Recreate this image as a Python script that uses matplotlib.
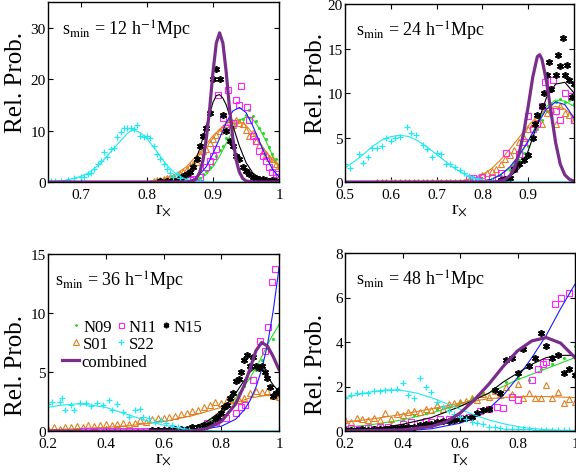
import numpy as np
import matplotlib
matplotlib.use("Agg")
import matplotlib.pyplot as plt

plt.rcParams['font.family'] = ['Liberation Serif', 'DejaVu Serif']
plt.rcParams['mathtext.fontset'] = 'stix'

# colours
c_n09 = '#22dd22'
c_n11 = '#ff22ff'
c_n11_fit = '#1a1aff'
c_n15 = 'black'
c_s01 = '#e08020'
c_s22 = '#22e8f0'
c_comb = '#7a2e8c'

# ---------------- panel 1: s_min = 12 ----------------
p1_s22_x = [0.655, 0.66, 0.67, 0.68, 0.69, 0.70, 0.705, 0.71, 0.715, 0.72, 0.725, 0.73, 0.735, 0.74, 0.745,
            0.75, 0.755, 0.76, 0.765, 0.77, 0.775, 0.78, 0.785, 0.79, 0.795, 0.80, 0.805, 0.81, 0.815,
            0.82, 0.825, 0.83, 0.835, 0.84, 0.845, 0.85, 0.86, 0.87, 0.88]
p1_s22_y = [0.1, 0.1, 0.2, 0.3, 0.8, 0.9, 1.0, 1.5, 1.8, 2.5, 3.5, 4.0, 5.9, 4.8, 6.5,
            6.6, 8.8, 9.8, 10.5, 10.5, 10.5, 10.3, 11.0, 9.0, 8.8, 9.0, 8.6, 7.0, 5.5,
            4.5, 3.5, 2.5, 1.8, 1.0, 1.5, 0.8, 0.4, 0.2, 0.1]
p1_s22_fx = [0.65, 0.67, 0.69, 0.70, 0.71, 0.72, 0.73, 0.74, 0.75, 0.76, 0.77, 0.775, 0.78, 0.79, 0.80,
             0.81, 0.82, 0.83, 0.84, 0.85, 0.86, 0.87, 0.88, 0.90, 1.0]
p1_s22_fy = [0.05, 0.2, 0.7, 1.1, 1.7, 2.6, 3.7, 5.1, 6.6, 8.0, 9.4, 9.9, 10.1, 9.6, 8.4,
             6.8, 5.0, 3.3, 2.0, 1.1, 0.5, 0.2, 0.1, 0.0, 0.0]

p1_n15_x = [0.82, 0.83, 0.84, 0.85, 0.855, 0.86, 0.865, 0.87, 0.875, 0.88, 0.885, 0.89, 0.895, 0.90, 0.905,
            0.91, 0.915, 0.92, 0.925, 0.93, 0.935, 0.94, 0.945, 0.95, 0.955, 0.96, 0.965, 0.97, 0.975,
            0.98, 0.985, 0.99, 0.995]
p1_n15_y = [0.1, 0.2, 0.3, 0.8, 1.2, 1.5, 2.0, 3.0, 4.5, 7.0, 9.0, 10.5, 13.5, 20.0, 22.0,
            20.0, 13.0, 10.0, 8.0, 7.0, 5.0, 4.5, 3.0, 2.2, 1.5, 1.0, 0.8, 0.5, 0.5,
            0.3, 0.2, 0.3, 0.2]
p1_n15_fx = [0.83, 0.85, 0.86, 0.87, 0.88, 0.89, 0.90, 0.905, 0.91, 0.915, 0.92, 0.93, 0.94, 0.95, 0.96,
             0.97, 0.98, 0.99, 1.0]
p1_n15_fy = [0.1, 0.4, 1.2, 3.0, 6.5, 11.0, 15.5, 16.8, 17.0, 16.3, 15.0, 11.0, 7.0, 3.8, 1.8,
             0.8, 0.3, 0.1, 0.05]

p1_n11_x = [0.855, 0.86, 0.865, 0.87, 0.88, 0.89, 0.895, 0.90, 0.905, 0.908, 0.915, 0.92, 0.923, 0.93,
            0.935, 0.94, 0.943, 0.952, 0.955, 0.96, 0.965, 0.97, 0.975, 0.98, 0.985, 0.99, 0.995, 1.0]
p1_n11_y = [0.1, 0.3, 0.3, 0.5, 1.0, 3.0, 4.0, 5.0, 6.5, 17.0, 12.5, 10.5, 17.8, 11.5,
            16.0, 15.0, 18.6, 14.6, 12.0, 9.0, 8.0, 6.0, 5.0, 4.0, 3.0, 2.0, 1.5, 1.0]
p1_n11_fx = [0.85, 0.86, 0.87, 0.88, 0.89, 0.90, 0.91, 0.92, 0.93, 0.94, 0.95, 0.96, 0.97, 0.98, 0.99, 1.0]
p1_n11_fy = [0.0, 0.1, 0.5, 1.5, 3.0, 5.5, 8.5, 11.5, 13.8, 14.5, 13.5, 11.0, 8.0, 5.0, 2.5, 1.0]

p1_n09_x = [0.86, 0.87, 0.88, 0.885, 0.89, 0.895, 0.90, 0.905, 0.91, 0.915, 0.92, 0.925, 0.93, 0.935,
            0.94, 0.945, 0.95, 0.955, 0.96, 0.965, 0.97, 0.975, 0.98, 0.985, 0.99, 0.995, 1.0]
p1_n09_y = [0.1, 0.3, 0.8, 1.5, 2.2, 3.0, 3.5, 5.0, 6.2, 7.0, 8.5, 8.0, 10.5, 11.5,
            12.0, 12.2, 13.0, 14.0, 12.8, 11.8, 10.5, 9.5, 8.3, 6.8, 5.5, 4.5, 3.0]
p1_n09_fx = [0.86, 0.87, 0.88, 0.89, 0.90, 0.91, 0.92, 0.93, 0.94, 0.95, 0.96, 0.97, 0.98, 0.99, 1.0]
p1_n09_fy = [0.05, 0.2, 0.6, 1.5, 3.0, 5.0, 7.5, 10.0, 12.0, 12.6, 12.2, 10.5, 8.0, 5.2, 2.7]

p1_s01_x = [0.81, 0.815, 0.82, 0.825, 0.83, 0.835, 0.84, 0.845, 0.85, 0.855, 0.86, 0.865, 0.87, 0.875,
            0.88, 0.885, 0.89, 0.895, 0.90, 0.905, 0.91, 0.915, 0.92, 0.925, 0.93, 0.935, 0.94, 0.945,
            0.95, 0.955, 0.96, 0.965, 0.97, 0.975, 0.98, 0.985, 0.99, 0.995, 1.0]
p1_s01_y = [0.2, 0.3, 0.4, 0.5, 0.7, 0.9, 1.0, 1.3, 1.5, 1.9, 2.6, 3.2, 3.5, 3.9,
            5.2, 6.0, 6.5, 7.6, 8.3, 9.2, 10.0, 10.5, 11.3, 12.3, 11.0, 12.0, 11.5, 11.2,
            10.2, 9.0, 9.5, 8.0, 7.2, 6.0, 5.5, 4.6, 4.5, 3.5, 3.2]
p1_s01_fx = [0.80, 0.82, 0.84, 0.86, 0.88, 0.90, 0.92, 0.93, 0.94, 0.95, 0.96, 0.97, 0.98, 0.99, 1.0]
p1_s01_fy = [0.1, 0.4, 1.2, 3.0, 5.8, 9.0, 11.5, 12.0, 11.8, 11.0, 9.5, 7.8, 6.0, 4.4, 3.0]

p1_comb_x = [0.65, 0.86, 0.87, 0.875, 0.88, 0.885, 0.89, 0.895, 0.90, 0.905, 0.91, 0.915, 0.92, 0.925,
             0.93, 0.935, 0.94, 0.945, 0.95, 0.96, 1.0]
p1_comb_y = [0.0, 0.0, 0.2, 0.7, 1.9, 4.3, 8.6, 14.3, 21.4, 27.0, 29.0, 27.0, 21.4, 14.3,
             8.6, 4.3, 1.9, 0.7, 0.2, 0.0, 0.0]

# ---------------- panel 2: s_min = 24 ----------------
p2_s22_x = [0.50, 0.51, 0.53, 0.54, 0.55, 0.56, 0.57, 0.58, 0.59, 0.60, 0.61, 0.62, 0.635, 0.645, 0.655,
            0.67, 0.68, 0.69, 0.70, 0.71, 0.72, 0.73, 0.74, 0.75, 0.76, 0.77, 0.78, 0.79, 0.80, 0.82, 0.84]
p2_s22_y = [2.0, 1.6, 3.1, 2.1, 2.8, 3.8, 3.8, 4.1, 5.0, 4.6, 5.0, 5.1, 6.2, 5.5, 5.3,
            4.2, 3.7, 2.8, 3.3, 3.1, 2.0, 2.0, 1.7, 1.3, 1.0, 0.7, 0.5, 0.3, 0.1, 0.1, 0.0]
p2_s22_fx = [0.50, 0.52, 0.54, 0.56, 0.58, 0.60, 0.62, 0.64, 0.66, 0.68, 0.70, 0.72, 0.74, 0.76, 0.78,
             0.80, 0.82, 0.84, 1.0]
p2_s22_fy = [1.6, 2.3, 3.1, 4.0, 4.7, 5.1, 5.25, 5.1, 4.6, 3.9, 3.1, 2.3, 1.5, 0.9, 0.5,
             0.2, 0.1, 0.0, 0.0]

p2_s01_x = np.round(np.arange(0.57, 1.005, 0.01), 3)
p2_s01_y = [0.05] * 20 + [0.2, 0.4, 0.5, 0.8, 1.0, 1.2, 1.5, 2.0, 2.6, 3.0, 3.6, 4.5, 5.0, 6.0,
                          6.5, 7.3, 6.5, 7.8, 8.2, 6.5, 8.5, 7.8, 7.5, 7.0]
p2_s01_fx = [0.57, 0.75, 0.78, 0.80, 0.82, 0.84, 0.86, 0.88, 0.90, 0.92, 0.94, 0.96, 0.98, 1.0]
p2_s01_fy = [0.0, 0.1, 0.4, 0.8, 1.5, 2.5, 3.7, 5.0, 6.3, 7.4, 8.2, 8.5, 8.2, 7.3]

p2_n11_x = [0.77, 0.78, 0.79, 0.80, 0.82, 0.84, 0.852, 0.87, 0.88, 0.89, 0.90, 0.91, 0.92, 0.93,
            0.936, 0.945, 0.954, 0.96, 0.97, 0.98, 0.994, 1.0]
p2_n11_y = [0.3, 0.5, 0.2, 0.6, 0.4, 1.0, 3.3, 1.5, 3.2, 4.5, 7.4, 6.0, 6.5, 8.5,
            11.2, 10.5, 11.5, 8.0, 7.0, 10.0, 9.7, 7.0]
p2_n11_fx = [0.78, 0.80, 0.82, 0.84, 0.86, 0.88, 0.90, 0.92, 0.94, 0.96, 0.98, 1.0]
p2_n11_fy = [0.0, 0.1, 0.3, 0.8, 1.7, 3.0, 4.6, 6.5, 8.2, 9.0, 8.7, 7.2]

p2_n09_x = [0.80, 0.82, 0.84, 0.86, 0.87, 0.88, 0.89, 0.90, 0.91, 0.92, 0.93, 0.94, 0.95, 0.96,
            0.97, 0.98, 0.99, 1.0]
p2_n09_y = [0.1, 0.3, 0.7, 1.3, 1.8, 2.5, 3.3, 4.0, 5.0, 6.0, 7.0, 8.0, 8.8, 9.0,
            9.3, 9.0, 9.2, 8.8]
p2_n09_fx = [0.78, 0.82, 0.86, 0.88, 0.90, 0.92, 0.94, 0.96, 0.98, 1.0]
p2_n09_fy = [0.0, 0.3, 1.5, 2.9, 4.5, 6.6, 8.5, 9.2, 9.1, 8.5]

p2_n15_x = [0.84, 0.85, 0.86, 0.87, 0.88, 0.89, 0.90, 0.91, 0.915, 0.92, 0.93, 0.935, 0.94, 0.945,
            0.95, 0.96, 0.965, 0.97, 0.975, 0.98, 0.985, 0.99, 0.995, 1.0]
p2_n15_y = [0.2, 0.3, 0.5, 1.5, 2.0, 2.5, 3.0, 5.0, 6.5, 7.5, 8.5, 10.0, 12.0, 13.5,
            10.5, 12.0, 14.3, 13.0, 16.2, 12.0, 13.2, 11.5, 9.5, 11.0]
p2_n15_fx = [0.80, 0.83, 0.86, 0.88, 0.90, 0.92, 0.94, 0.96, 0.98, 1.0]
p2_n15_fy = [0.0, 0.1, 0.6, 1.5, 3.5, 6.5, 9.5, 11.0, 11.2, 10.0]

p2_comb_x = [0.50, 0.83, 0.85, 0.86, 0.87, 0.88, 0.89, 0.90, 0.91, 0.92, 0.925, 0.93, 0.94, 0.95,
             0.96, 0.97, 0.98, 0.99, 1.0]
p2_comb_y = [0.0, 0.0, 0.3, 0.7, 1.6, 3.2, 5.5, 8.5, 11.8, 14.1, 14.3, 13.8, 11.3, 7.8,
             4.4, 2.0, 0.8, 0.3, 0.1]

# ---------------- panel 3: s_min = 36 ----------------
p3_s22_x = [0.20, 0.215, 0.24, 0.25, 0.26, 0.28, 0.29, 0.31, 0.33, 0.35, 0.37, 0.39, 0.41, 0.42, 0.44,
            0.46, 0.48, 0.50, 0.52, 0.53, 0.55, 0.57, 0.59, 0.61, 0.63, 0.65, 0.67, 0.69, 0.72, 0.75]
p3_s22_y = [2.3, 2.5, 2.5, 2.8, 1.8, 2.2, 1.8, 2.4, 2.4, 2.1, 2.4, 2.2, 2.6, 1.8, 2.3,
            1.6, 1.2, 1.8, 1.9, 1.2, 1.1, 0.8, 0.9, 0.7, 0.5, 0.3, 0.2, 0.1, 0.1, 0.0]
p3_s22_fx = [0.20, 0.25, 0.30, 0.35, 0.40, 0.45, 0.50, 0.55, 0.60, 0.65, 0.70, 0.75, 0.80, 1.0]
p3_s22_fy = [2.0, 2.2, 2.3, 2.2, 2.0, 1.6, 1.2, 0.8, 0.5, 0.25, 0.1, 0.05, 0.0, 0.0]

p3_s01_x = np.round(np.arange(0.20, 1.005, 0.02), 3)
p3_s01_y = [0.2, 0.3, 0.2, 0.3, 0.3, 0.4, 0.3, 0.5, 0.4, 0.5, 0.6, 0.5, 0.6, 0.7, 0.6, 0.7, 0.9,
            0.8, 1.0, 1.1, 1.1, 1.2, 1.3, 1.4, 1.5, 1.7, 1.8, 2.0, 2.2, 2.5, 2.4, 2.6, 2.7, 2.6,
            2.8, 3.2, 3.4, 3.3, 3.4, 3.0, 2.9]
p3_s01_fx = [0.20, 0.30, 0.40, 0.50, 0.60, 0.70, 0.80, 0.85, 0.90, 0.95, 1.0]
p3_s01_fy = [0.1, 0.2, 0.3, 0.5, 0.8, 1.3, 2.0, 2.4, 2.8, 3.0, 3.0]

p3_n11_x = [0.32, 0.34, 0.36, 0.38, 0.40, 0.42, 0.44, 0.46, 0.48, 0.50, 0.52, 0.54, 0.56, 0.58, 0.60,
            0.62, 0.64, 0.66, 0.68, 0.70, 0.72, 0.749, 0.783, 0.818, 0.852, 0.87, 0.881, 0.91,
            0.933, 0.95, 0.962, 0.977, 0.985]
p3_n11_y = [0.0] * 21 + [0.7, 0.8, 1.1, 1.5, 2.0, 2.2, 4.3, 7.6, 6.8, 8.8, 12.6, 13.7]
p3_n11_fx = [0.60, 0.70, 0.75, 0.80, 0.85, 0.88, 0.90, 0.92, 0.94, 0.96, 0.98, 1.0]
p3_n11_fy = [0.0, 0.1, 0.2, 0.4, 1.0, 1.8, 2.6, 3.7, 5.2, 7.3, 10.2, 13.8]

p3_n09_x = [0.60, 0.65, 0.70, 0.72, 0.74, 0.76, 0.78, 0.80, 0.82, 0.84, 0.86, 0.88, 0.90, 0.92,
            0.94, 0.96, 0.98, 1.0]
p3_n09_y = [0.1, 0.2, 0.4, 0.5, 0.6, 0.9, 1.2, 1.5, 2.0, 2.5, 3.2, 3.8, 4.5, 5.2,
            6.0, 7.0, 7.8, 9.0]
p3_n09_fx = [0.55, 0.60, 0.70, 0.75, 0.80, 0.85, 0.90, 0.93, 0.95, 0.97, 1.0]
p3_n09_fy = [0.0, 0.1, 0.3, 0.7, 1.5, 2.8, 4.5, 5.8, 6.8, 7.8, 9.0]

p3_n15_x = [0.56, 0.58, 0.60, 0.62, 0.64, 0.66, 0.68, 0.70, 0.72, 0.74, 0.76, 0.78, 0.79, 0.80, 0.81,
            0.82, 0.83, 0.84, 0.85, 0.86, 0.87, 0.88, 0.89, 0.90, 0.91, 0.92, 0.93, 0.94, 0.95,
            0.96, 0.97, 0.98, 0.99, 1.0]
p3_n15_y = [0.05, 0.05, 0.1, 0.1, 0.15, 0.2, 0.2, 0.3, 0.3, 0.5, 0.6, 1.0, 1.2, 1.5, 2.0,
            2.2, 2.8, 3.2, 4.2, 4.4, 5.0, 6.0, 6.4, 5.5, 6.3, 5.5, 5.3, 5.5, 5.0,
            4.5, 3.7, 3.0, 3.2, 3.5]
p3_n15_fx = [0.55, 0.60, 0.70, 0.75, 0.80, 0.85, 0.88, 0.90, 0.92, 0.94, 0.96, 0.98, 1.0]
p3_n15_fy = [0.0, 0.05, 0.3, 0.8, 1.7, 3.2, 4.3, 5.0, 5.4, 5.2, 4.6, 3.9, 3.3]

p3_comb_x = [0.20, 0.70, 0.75, 0.80, 0.85, 0.88, 0.90, 0.92, 0.94, 0.96, 0.98, 1.0]
p3_comb_y = [0.0, 0.0, 0.2, 0.8, 2.3, 3.9, 5.3, 6.8, 7.5, 7.2, 6.3, 5.2]

# ---------------- panel 4: s_min = 48 ----------------
p4_x02 = np.round(np.arange(0.20, 1.005, 0.02), 3)

p4_s22_y = [1.5, 1.6, 1.7, 1.7, 1.7, 1.8, 1.8, 1.85, 1.85, 1.9, 2.15, 1.6, 1.5, 2.4, 2.0,
            1.75, 1.3, 1.1, 0.9, 0.75, 0.65, 0.55, 0.4, 0.35, 0.3, 0.2, 0.2, 0.15, 0.1, 0.1,
            0.1, 0.08, 0.08, 0.05, 0.05, 0.05, 0.05, 0.05, 0.05, 0.05, 0.05]
p4_s22_fx = [0.20, 0.25, 0.30, 0.35, 0.40, 0.45, 0.50, 0.55, 0.60, 0.65, 0.70, 0.75, 0.80, 0.85,
             0.90, 0.95, 1.0]
p4_s22_fy = [1.5, 1.65, 1.78, 1.85, 1.82, 1.7, 1.5, 1.25, 0.98, 0.72, 0.5, 0.33, 0.2, 0.11,
             0.06, 0.03, 0.02]

p4_s01_y = [0.5, 0.4, 0.6, 0.55, 0.5, 0.6, 0.5, 0.8, 0.55, 0.75, 0.7, 0.85, 0.9, 0.85, 1.0,
            0.95, 1.15, 1.0, 1.2, 1.25, 1.3, 1.35, 1.5, 1.4, 1.65, 1.55, 1.8, 1.6, 2.0, 1.65,
            2.1, 1.5, 1.7, 1.5, 1.5, 2.05, 1.5, 1.75, 1.25, 1.45, 1.3]
p4_s01_fx = [0.20, 0.30, 0.40, 0.50, 0.60, 0.70, 0.80, 0.90, 1.0]
p4_s01_fy = [0.4, 0.55, 0.75, 1.0, 1.25, 1.45, 1.55, 1.55, 1.5]

p4_n09_x = np.round(np.arange(0.20, 1.005, 0.04), 3)
p4_n09_y = [0.1, 0.2, 0.25, 0.3, 0.4, 0.5, 0.7, 0.8, 1.0, 1.1, 1.3, 1.5, 1.7, 1.9, 2.2,
            2.4, 2.3, 2.8, 3.0, 3.3, 3.8]
p4_n09_fx = [0.20, 0.30, 0.40, 0.50, 0.60, 0.70, 0.80, 0.90, 1.0]
p4_n09_fy = [0.15, 0.3, 0.5, 0.8, 1.2, 1.7, 2.3, 2.8, 3.3]

p4_n15_y = [0.05, 0.05, 0.05, 0.1, 0.05, 0.1, 0.1, 0.1, 0.15, 0.15, 0.2, 0.2, 0.2, 0.25, 0.3,
            0.3, 0.4, 0.45, 0.45, 0.5, 0.55, 0.6, 0.65, 0.8, 0.95, 1.0, 1.85, 1.7, 3.2, 3.3,
            2.6, 3.7, 2.9, 3.3, 4.4, 3.8, 3.3, 3.4, 2.6, 2.8, 2.5]
p4_n15_fx = [0.20, 0.30, 0.40, 0.50, 0.60, 0.70, 0.75, 0.80, 0.85, 0.90, 0.95, 1.0]
p4_n15_fy = [0.05, 0.1, 0.3, 0.6, 1.1, 1.7, 2.2, 2.6, 3.0, 3.3, 3.4, 3.4]

p4_n11_x = [0.20, 0.22, 0.25, 0.28, 0.30, 0.32, 0.35, 0.38, 0.40, 0.43, 0.46, 0.48, 0.50, 0.53, 0.56,
            0.60, 0.63, 0.67, 0.70, 0.73, 0.75, 0.78, 0.80, 0.85, 0.87, 0.89, 0.90, 0.93, 0.95, 0.98]
p4_n11_y = [0.1, 0.15, 0.1, 0.15, 0.1, 0.2, 0.2, 0.15, 0.3, 0.4, 0.35, 0.45, 0.4, 0.55, 0.55,
            0.6, 0.65, 0.9, 1.0, 1.1, 1.05, 1.55, 1.4, 2.3, 2.8, 3.0, 3.1, 5.7, 6.0, 6.2]
p4_n11_fx = [0.40, 0.50, 0.60, 0.65, 0.70, 0.75, 0.80, 0.85, 0.90, 0.95, 1.0]
p4_n11_fy = [0.0, 0.1, 0.35, 0.6, 1.0, 1.6, 2.4, 3.3, 4.3, 5.5, 6.6]

p4_comb_x = [0.20, 0.40, 0.50, 0.55, 0.60, 0.65, 0.70, 0.75, 0.80, 0.85, 0.90, 0.95, 1.0]
p4_comb_y = [0.0, 0.05, 0.2, 0.4, 0.8, 1.4, 2.1, 2.9, 3.6, 4.05, 4.2, 3.95, 3.3]

smins = [12, 24, 36, 48]
xlims = [(0.65, 1.0), (0.5, 1.0), (0.2, 1.0), (0.2, 1.0)]
ylims = [(0, 35), (0, 20), (0, 15), (0, 8)]
xticks = [[0.7, 0.8, 0.9, 1], [0.5, 0.6, 0.7, 0.8, 0.9], [0.2, 0.4, 0.6, 0.8, 1], [0.2, 0.4, 0.6, 0.8, 1]]
yticks = [[0, 10, 20, 30], [0, 5, 10, 15, 20], [0, 5, 10, 15], [0, 2, 4, 6, 8]]

W, H = 576, 477
fig = plt.figure(figsize=(W / 100, H / 100), dpi=100)
boxes = [(48, 279, 3, 183), (345, 574, 5, 183), (48, 279, 255, 432), (345, 575, 254, 432)]
axes = []
for (l, r, t, b) in boxes:
    axes.append(fig.add_axes([l / W, 1 - b / H, (r - l) / W, (b - t) / H]))

# point data and fits per panel
panels = [
    dict(s22=(p1_s22_x, p1_s22_y, p1_s22_fx, p1_s22_fy),
         s01=(p1_s01_x, p1_s01_y, p1_s01_fx, p1_s01_fy),
         n09=(p1_n09_x, p1_n09_y, p1_n09_fx, p1_n09_fy),
         n11=(p1_n11_x, p1_n11_y, p1_n11_fx, p1_n11_fy),
         n15=(p1_n15_x, p1_n15_y, p1_n15_fx, p1_n15_fy),
         comb=(p1_comb_x, p1_comb_y)),
    dict(s22=(p2_s22_x, p2_s22_y, p2_s22_fx, p2_s22_fy),
         s01=(p2_s01_x, p2_s01_y, p2_s01_fx, p2_s01_fy),
         n09=(p2_n09_x, p2_n09_y, p2_n09_fx, p2_n09_fy),
         n11=(p2_n11_x, p2_n11_y, p2_n11_fx, p2_n11_fy),
         n15=(p2_n15_x, p2_n15_y, p2_n15_fx, p2_n15_fy),
         comb=(p2_comb_x, p2_comb_y)),
    dict(s22=(p3_s22_x, p3_s22_y, p3_s22_fx, p3_s22_fy),
         s01=(p3_s01_x, p3_s01_y, p3_s01_fx, p3_s01_fy),
         n09=(p3_n09_x, p3_n09_y, p3_n09_fx, p3_n09_fy),
         n11=(p3_n11_x, p3_n11_y, p3_n11_fx, p3_n11_fy),
         n15=(p3_n15_x, p3_n15_y, p3_n15_fx, p3_n15_fy),
         comb=(p3_comb_x, p3_comb_y)),
    dict(s22=(p4_x02, p4_s22_y, p4_s22_fx, p4_s22_fy),
         s01=(p4_x02, p4_s01_y, p4_s01_fx, p4_s01_fy),
         n09=(p4_n09_x, p4_n09_y, p4_n09_fx, p4_n09_fy),
         n11=(p4_n11_x, p4_n11_y, p4_n11_fx, p4_n11_fy),
         n15=(p4_x02, p4_n15_y, p4_n15_fx, p4_n15_fy),
         comb=(p4_comb_x, p4_comb_y)),
]

label_x = [-0.091, -0.079, -0.091, -0.079]
label_y = [0.56, 0.56, 0.378, 0.378]
text_x = [0.06, 0.048, 0.03, 0.048]
for i, ax in enumerate(axes):
    d = panels[i]
    x, y, fx, fy = d['n09']
    h09, = ax.plot(x, y, '.', color=c_n09, ms=2.5, label='N09')
    ax.plot(fx, fy, '-', color=c_n09, lw=0.8)
    x, y, fx, fy = d['s01']
    hs01, = ax.plot(x, y, '^', mfc='none', mec=c_s01, ms=5, mew=0.8, label='S01')
    ax.plot(fx, fy, '-', color=c_s01, lw=0.8)
    x, y, fx, fy = d['n11']
    h11, = ax.plot(x, y, 's', mfc='none', mec=c_n11, ms=4.5, mew=0.8, label='N11')
    ax.plot(fx, fy, '-', color=c_n11_fit, lw=0.8)
    x, y, fx, fy = d['n15']
    h15, = ax.plot(x, y, linestyle='none', marker=(6, 2, 0), color=c_n15, ms=5, mew=1.2, label='N15')
    ax.plot(fx, fy, '-', color=c_n15, lw=0.8)
    x, y, fx, fy = d['s22']
    hs22, = ax.plot(x, y, '+', color=c_s22, ms=5, mew=0.9, label='S22')
    ax.plot(fx, fy, '-', color=c_s22, lw=0.8)
    cx, cy = d['comb']
    hc, = ax.plot(cx, cy, '-', color=c_comb, lw=2.3, label='combined')

    ax.set_xlim(*xlims[i])
    ax.set_ylim(*ylims[i])
    ax.set_xticks(xticks[i])
    ax.set_yticks(yticks[i])
    ax.set_xticklabels([('%g' % v) for v in xticks[i]])
    ax.tick_params(direction='in', top=True, right=True, length=3.5, width=0.8, labelsize=11)
    ax.tick_params(axis='x', pad=4.5)
    ax.tick_params(axis='y', pad=1.5)
    for sp in ax.spines.values():
        sp.set_linewidth(1.0)
    ax.set_ylabel('Rel. Prob.', fontsize=18)
    ax.yaxis.set_label_coords(label_x[i], label_y[i])
    ax.set_xlabel(r'r$_{\times}$', fontsize=14, labelpad=0)
    ax.text(text_x[i], 0.85, r's$_{\rm min}$ = %d h$^{-1}$Mpc' % smins[i], transform=ax.transAxes,
            fontsize=13, va='center', ha='left')

    if i == 2:
        leg1 = ax.legend(handles=[h09, hs01, h11, hs22, h15], ncol=3, loc='upper left',
                         bbox_to_anchor=(0.07, 0.67), frameon=False, fontsize=12,
                         handlelength=0.6, handletextpad=0.15, columnspacing=0.25,
                         labelspacing=0.05, borderaxespad=0, markerscale=0.8)
        ax.add_artist(leg1)
        ax.legend(handles=[hc], loc='upper left', bbox_to_anchor=(0.032, 0.475), frameon=False,
                  fontsize=12, handlelength=1.0, handletextpad=0.18, borderaxespad=0)

fig.savefig('out.png', dpi=100)
